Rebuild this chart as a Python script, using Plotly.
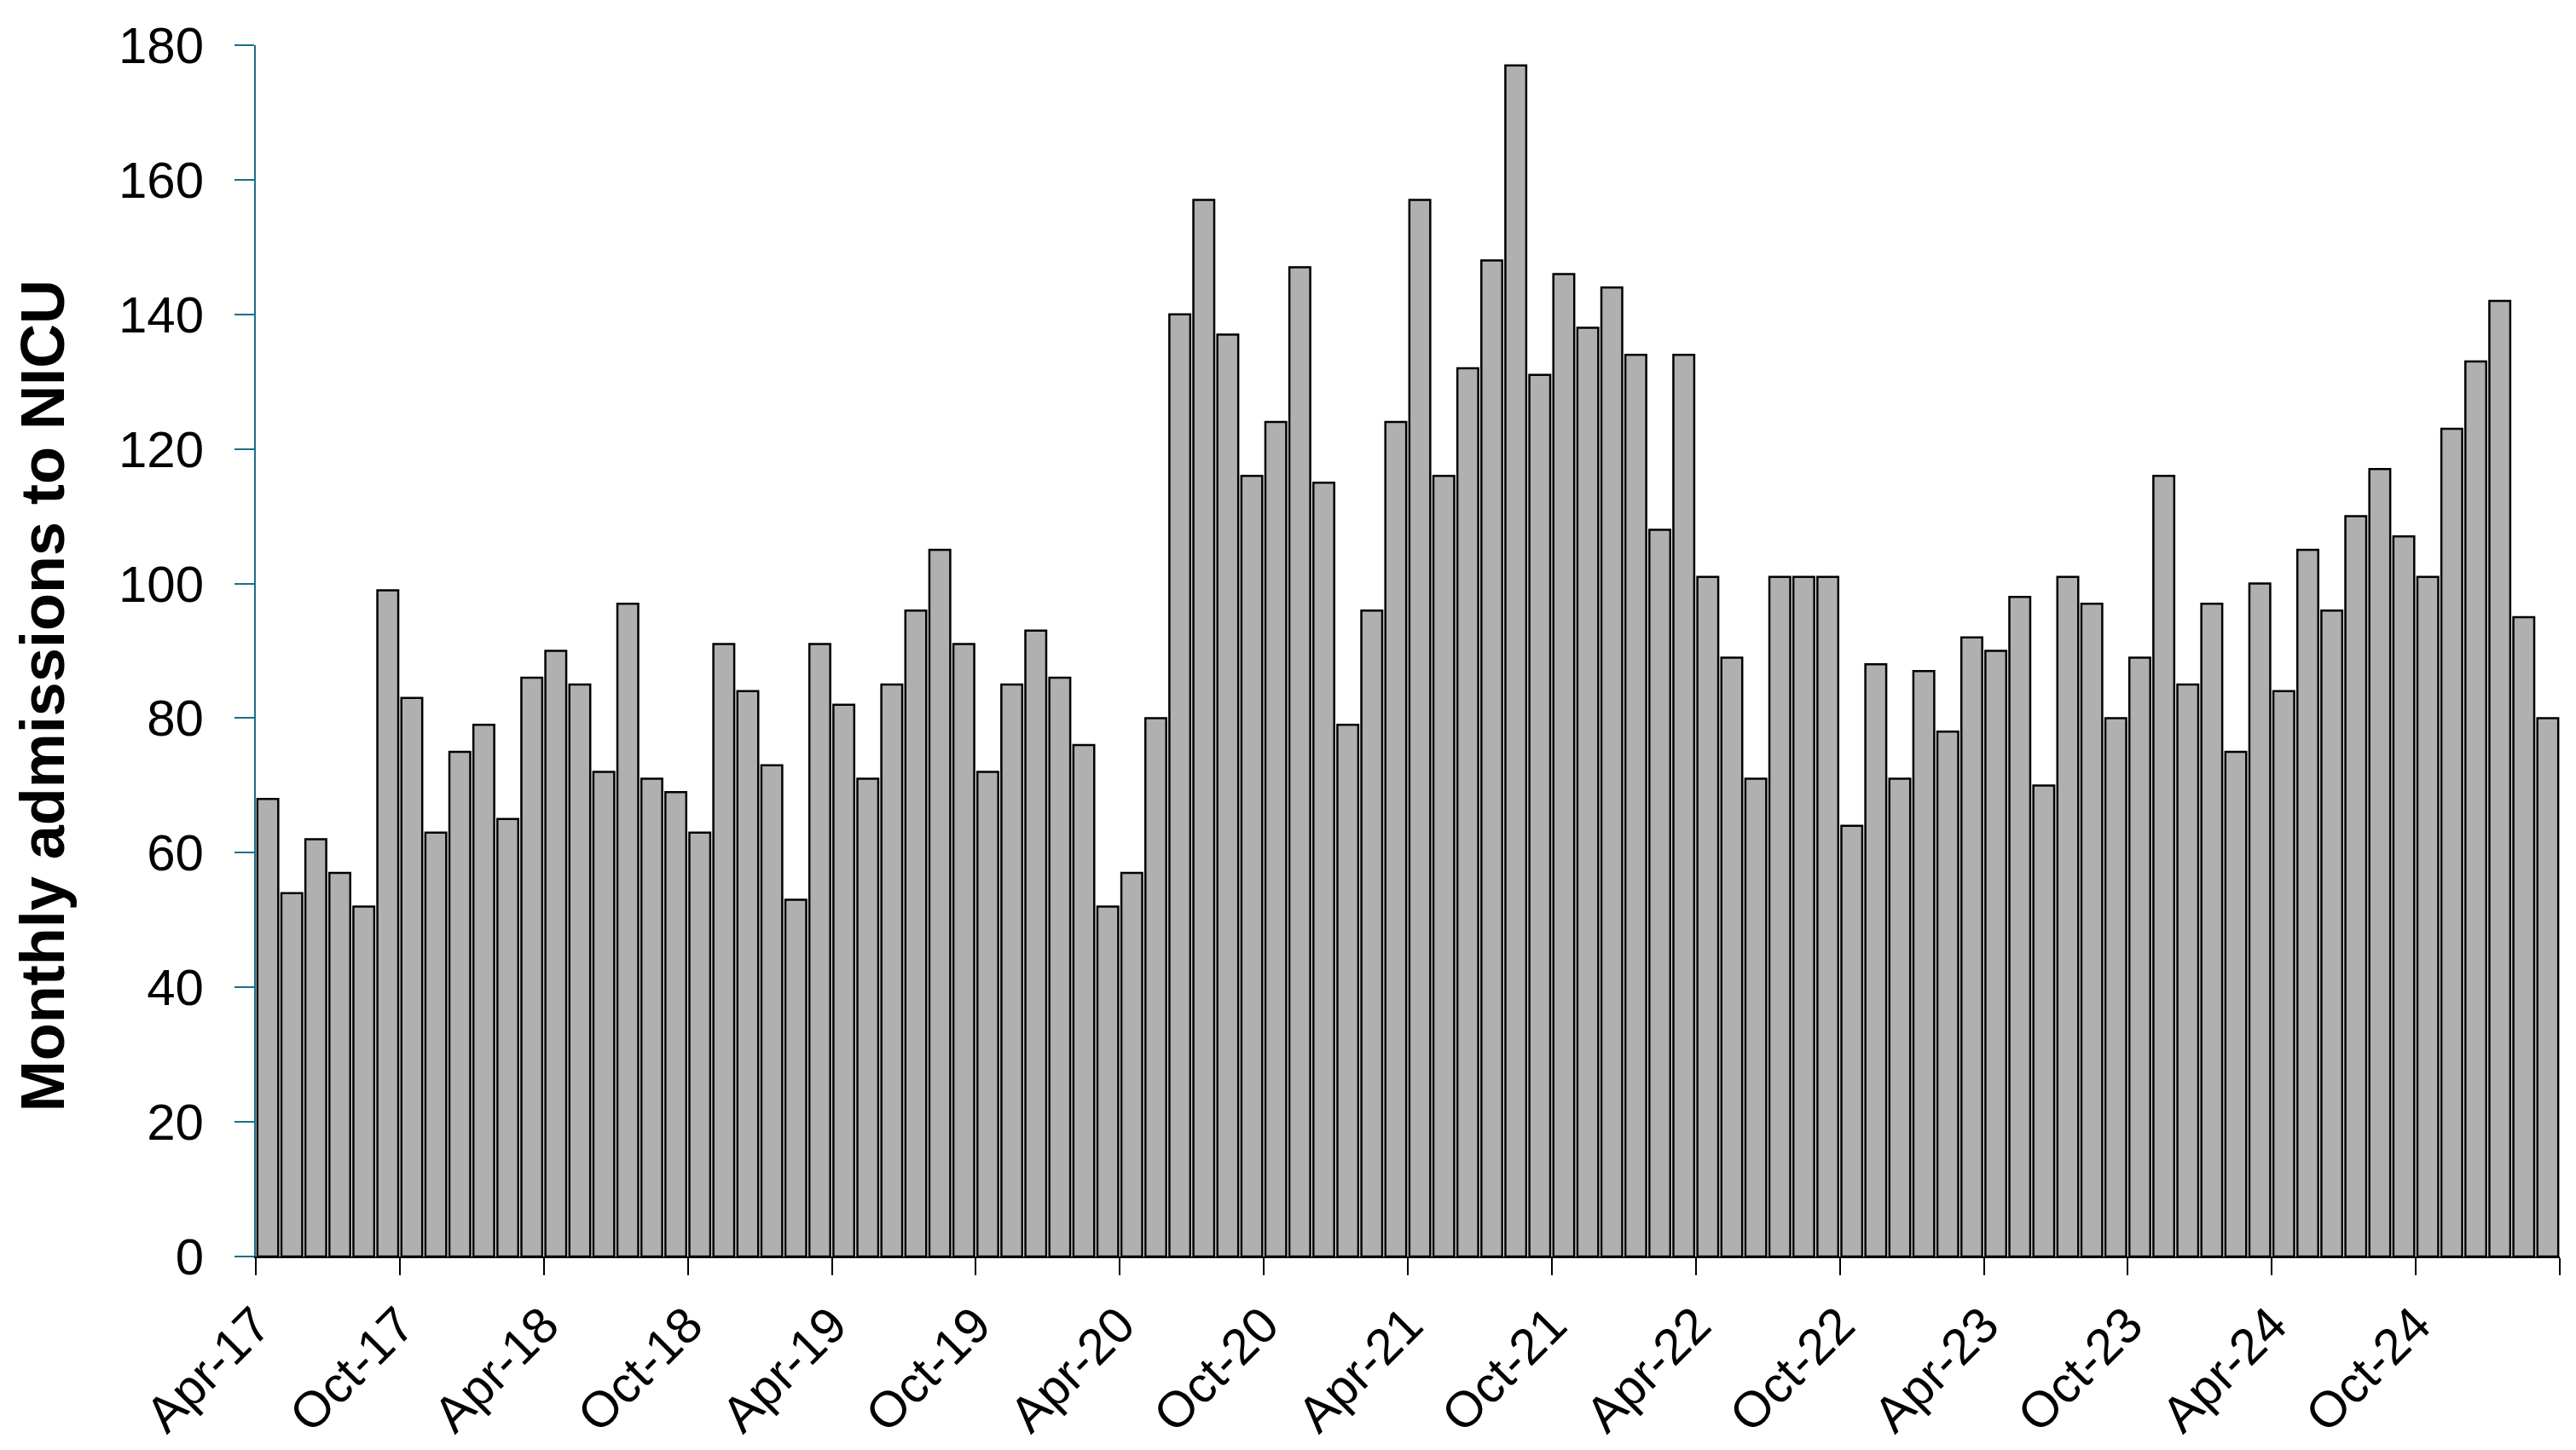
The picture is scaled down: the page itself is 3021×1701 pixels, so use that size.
import plotly.graph_objects as go

# monthly NICU admissions, Apr-17 .. Mar-25
admissions = [
    68, 54, 62, 57, 52, 99, 83, 63, 75, 79, 65, 86,      # Apr-17 .. Mar-18
    90, 85, 72, 97, 71, 69, 63, 91, 84, 73, 53, 91,      # Apr-18 .. Mar-19
    82, 71, 85, 96, 105, 91, 72, 85, 93, 86, 76, 52,     # Apr-19 .. Mar-20
    57, 80, 140, 157, 137, 116, 124, 147, 115, 79, 96, 124,   # Apr-20 .. Mar-21
    157, 116, 132, 148, 177, 131, 146, 138, 144, 134, 108, 134,  # Apr-21 .. Mar-22
    101, 89, 71, 101, 101, 101, 64, 88, 71, 87, 78, 92,  # Apr-22 .. Mar-23
    90, 98, 70, 101, 97, 80, 89, 116, 85, 97, 75, 100,   # Apr-23 .. Mar-24
    84, 105, 96, 110, 117, 107, 101, 123, 133, 142, 95, 80,  # Apr-24 .. Mar-25
]

tick_labels = [
    "Apr-17", "Oct-17", "Apr-18", "Oct-18", "Apr-19", "Oct-19", "Apr-20", "Oct-20",
    "Apr-21", "Oct-21", "Apr-22", "Oct-22", "Apr-23", "Oct-23", "Apr-24", "Oct-24", "",
]

n = len(admissions)
x_pos = [i + 0.5 for i in range(n)]
tick_pos = list(range(0, n + 1, 6))

fig = go.Figure(
    go.Bar(
        x=x_pos,
        y=admissions,
        marker=dict(color="#b0b0b0", line=dict(color="black", width=2.5)),
    )
)

# page body adds ~8px offset, margins compensate for it
fig.update_layout(
    width=3021,
    height=1701,
    paper_bgcolor="white",
    plot_bgcolor="white",
    margin=dict(l=292, r=27, t=36, b=235),
    bargap=0.13,
    showlegend=False,
    font=dict(family="Liberation Sans, Arial, sans-serif", color="black", size=58),
)

fig.update_xaxes(
    range=[0, n],
    tickmode="array",
    tickvals=tick_pos,
    ticktext=tick_labels,
    tickangle=-45,
    ticks="outside",
    ticklen=20,
    tickwidth=2,
    tickcolor="black",
    showline=True,
    linecolor="black",
    linewidth=2,
    showgrid=False,
    zeroline=False,
    tickfont=dict(size=59),
)

fig.update_yaxes(
    range=[0, 180],
    tickmode="linear",
    tick0=0,
    dtick=20,
    ticks="outside",
    ticklen=23,
    tickwidth=2,
    tickcolor="#1d6f82",
    showline=True,
    linecolor="#1d6f82",
    linewidth=2,
    showgrid=False,
    zeroline=False,
    ticklabelstandoff=24,
    tickfont=dict(size=60),
)

# y axis title placed by hand
fig.add_annotation(
    text="<b>Monthly admissions to NICU</b>",
    xref="paper", yref="paper",
    x=-0.0925, y=0.463,
    xanchor="center", yanchor="middle",
    textangle=-90,
    showarrow=False,
    borderpad=0,
    font=dict(size=72, color="black"),
)

fig.write_html("out.html")
